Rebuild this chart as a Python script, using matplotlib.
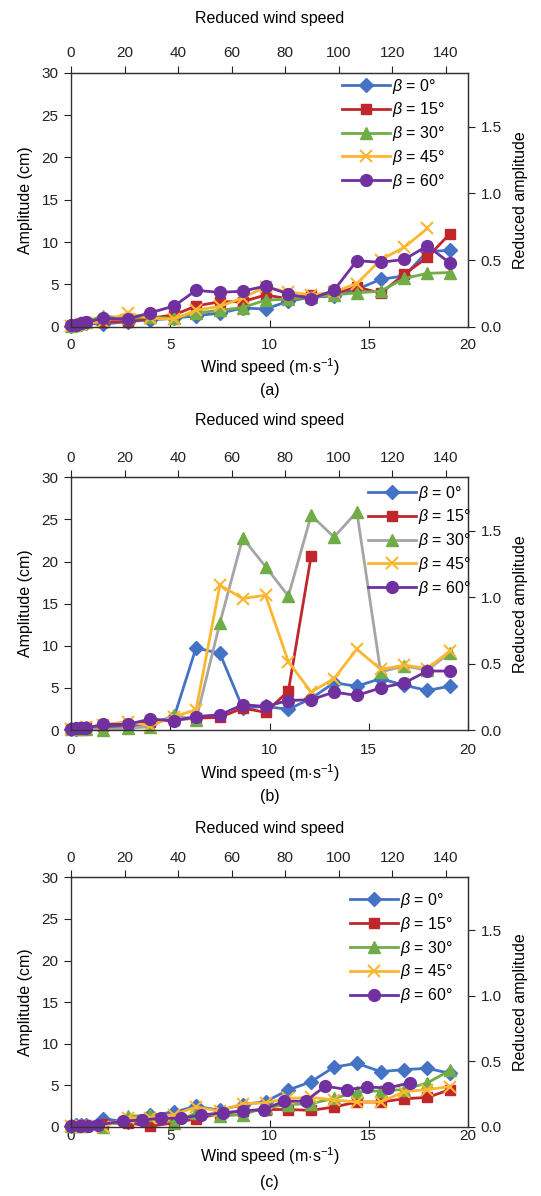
import matplotlib
matplotlib.use("Agg")
import matplotlib.pyplot as plt

plt.rcParams['font.family'] = ['Liberation Sans', 'DejaVu Sans']
plt.rcParams['mathtext.fontset'] = 'custom'
plt.rcParams['mathtext.rm'] = 'Liberation Sans'
plt.rcParams['mathtext.it'] = 'Liberation Sans:italic'

# ---------------- data ----------------
wind = [0, 0.25, 0.5, 0.75, 1.6, 2.85, 4.0, 5.2, 6.3, 7.5, 8.65, 9.8,
        10.95, 12.1, 13.25, 14.4, 15.6, 16.8, 17.95, 19.1]

# panel (a)
blue_a = [0.1, 0.2, 0.3, 0.4, 0.3, 0.6, 0.8, 1.0, 1.3, 1.6, 2.2, 2.1, 3.0, 3.5, 3.6, 4.4, 5.6, 6.0, 8.9, 9.0]
red_a = [0.1, 0.2, 0.3, 0.5, 0.6, 0.6, 1.0, 1.4, 2.45, 2.95, 2.95, 3.75, 3.3, 3.75, 3.9, 4.7, 3.95, 6.2, 8.2, 11.0]
green_a = [0.1, 0.2, 0.4, 0.6, 1.25, 1.0, 1.1, 1.0, 1.6, 1.95, 2.25, 3.15, 3.25, 3.5, 3.75, 4.0, 4.2, 5.7, 6.3, 6.4]
orange_a = [0.1, 0.2, 0.3, 0.4, 0.6, 1.6, 1.0, 0.9, 1.95, 2.4, 3.4, 4.7, 4.1, 3.75, 4.1, 5.1, 7.9, 9.4, 11.6]
purple_a = [0.2, 0.25, 0.4, 0.5, 1.0, 0.9, 1.65, 2.45, 4.3, 4.05, 4.2, 4.8, 3.85, 3.3, 4.3, 7.8, 7.6, 7.95, 9.55, 7.5]

# panel (b)
blue_b = [0.1, 0.1, 0.2, 0.2, 0.4, 0.4, 0.8, 1.6, 9.75, 9.1, 2.6, 2.8, 2.45, 3.75, 5.6, 5.2, 6.1, 5.3, 4.7, 5.2]
red_b = [0.1, 0.1, 0.2, 0.3, 0.5, 0.6, 1.0, 1.2, 1.4, 1.5, 2.6, 2.1, 4.6, 20.7]
green_b = [0.1, 0.1, 0.1, 0.1, 0.0, 0.2, 0.4, 1.8, 1.2, 12.7, 22.8, 19.4, 15.9, 25.5, 22.9, 25.9, 6.9, 7.6, 7.1, 9.2]
orange_b = [0.1, 0.1, 0.2, 0.3, 0.6, 1.0, 0.5, 1.6, 2.4, 17.2, 15.6, 16.0, 8.1, 4.5, 6.1, 9.6, 7.2, 7.7, 7.3, 9.4]
purple_b = [0.1, 0.2, 0.2, 0.2, 0.67, 0.67, 1.3, 1.1, 1.6, 1.8, 3.0, 2.8, 3.5, 3.6, 4.5, 4.1, 5.0, 5.6, 7.0, 7.0]

# panel (c)
blue_c = [0.1, 0.2, 0.2, 0.3, 1.0, 0.6, 1.4, 1.8, 2.5, 2.0, 2.7, 3.05, 4.45, 5.45, 7.2, 7.65, 6.65, 6.9, 7.05, 6.45]
red_c = [0.1, 0.1, 0.1, 0.2, 0.4, 0.5, 0.1, 0.5, 1.0, 1.6, 1.9, 2.1, 2.1, 2.0, 2.4, 3.0, 3.0, 3.4, 3.55, 4.5]
green_c = [0.1, 0.1, 0.1, 0.2, 0.0, 1.3, 1.4, 0.5, 1.7, 1.3, 1.5, 2.3, 2.7, 2.8, 3.45, 4.2, 4.35, 4.5, 5.3, 6.8]
orange_c = [0.1, 0.0, 0.0, 0.1, 0.0, 1.1, 1.1, 1.5, 2.4, 1.9, 2.8, 2.9, 3.45, 3.55, 3.25, 3.0, 3.0, 4.25, 4.5, 4.85]
wind_purple_c = [0, 0.45, 0.86, 1.35, 2.6, 3.56, 4.55, 5.54, 6.56, 7.64, 8.68, 9.7,
                 10.73, 11.82, 12.81, 13.92, 14.92, 15.99, 17.06]
purple_c = [0.1, 0.1, 0.1, 0.25, 0.7, 0.85, 1.05, 1.05, 1.45, 1.7, 1.95, 2.1, 3.1, 3.1, 4.9, 4.5, 4.8, 4.7, 5.3]

labels = [r'$\beta$ = 0°', r'$\beta$ = 15°', r'$\beta$ = 30°', r'$\beta$ = 45°', r'$\beta$ = 60°']
panel_tags = ['(a)', '(b)', '(c)']

BLUE = '#4472C4'
RED = '#C0272D'
GREEN = '#70AD47'
ORANGE = '#FDB632'
PURPLE = '#7030A0'
GREY = '#A5A5A5'

VEL_FACTOR = 7.41     # reduced wind speed per m/s
AMP_FACTOR = 15.75    # cm per unit reduced amplitude

# layout per panel (pixel positions)
panels = [
    dict(series=[(wind, blue_a), (wind, red_a), (wind, green_a), (wind, orange_a), (wind, purple_a)],
         green_line=GREEN, rect=[71, 72.7, 468, 326.7], leg=(0.683, 0.985),
         title_y=18, xlab_y=367, tag_y=391, tick_pad=8.0),
    dict(series=[(wind, blue_b), (wind, red_b), (wind, green_b), (wind, orange_b), (wind, purple_b)],
         green_line=GREY, rect=[71, 477.3, 468, 730], leg=(0.748, 0.975),
         title_y=420, xlab_y=773, tag_y=797, tick_pad=9.5),
    dict(series=[(wind, blue_c), (wind, red_c), (wind, green_c), (wind, orange_c), (wind_purple_c, purple_c)],
         green_line=GREEN, rect=[71, 877.3, 468, 1127], leg=(0.703, 0.945),
         title_y=828, xlab_y=1156, tag_y=1182, tick_pad=1.5),
]

W, H = 541, 1196
fig = plt.figure(figsize=(W / 100, H / 100), dpi=100)

styles = [
    dict(marker='D', ms=7, color=BLUE),
    dict(marker='s', ms=7, color=RED),
    dict(marker='^', ms=8.5, color=GREEN),
    dict(marker='x', ms=9, mew=1.5, color=ORANGE),
    dict(marker='o', ms=8.5, color=PURPLE),
]

FS = 11.5
TFS = 11
for i, p in enumerate(panels):
    x0, y0, x1, y1 = p['rect']
    ax = fig.add_axes([x0 / W, 1 - y1 / H, (x1 - x0) / W, (y1 - y0) / H])
    handles = []
    for k, ((xs, ys), st) in enumerate(zip(p['series'], styles)):
        st = dict(st)
        col = st.pop('color')
        line_col = p['green_line'] if k == 2 else col
        h, = ax.plot(xs[:len(ys)], ys, color=line_col, lw=2, markerfacecolor=col,
                     markeredgecolor=col, clip_on=False, label=labels[k], **st)
        handles.append(h)
    ax.set_xlim(0, 20)
    ax.set_ylim(0, 30)
    ax.set_xticks([0, 5, 10, 15, 20])
    ax.set_yticks([0, 5, 10, 15, 20, 25, 30])
    ax.tick_params(axis='x', direction='in', length=5, pad=p['tick_pad'], labelsize=TFS, colors='#222222')
    ax.tick_params(axis='y', direction='out', length=5, pad=4, labelsize=TFS, colors='#222222')
    for s in ax.spines.values():
        s.set_color('#333333')
        s.set_linewidth(1)
    ax.set_ylabel('Amplitude (cm)', fontsize=FS, labelpad=6)

    top = ax.secondary_xaxis('top', functions=(lambda v: v * VEL_FACTOR, lambda v: v / VEL_FACTOR))
    top.set_xticks([0, 20, 40, 60, 80, 100, 120, 140])
    top.tick_params(direction='out', length=5, pad=4, labelsize=TFS, colors='#222222')
    top.spines['top'].set_color('#333333')

    right = ax.secondary_yaxis('right', functions=(lambda v: v / AMP_FACTOR, lambda v: v * AMP_FACTOR))
    right.set_yticks([0.0, 0.5, 1.0, 1.5])
    right.set_yticklabels(['0.0', '0.5', '1.0', '1.5'])
    right.tick_params(direction='out', length=5, pad=4, labelsize=TFS, colors='#222222')
    right.set_ylabel('Reduced amplitude', fontsize=FS, labelpad=8)
    right.spines['right'].set_color('#333333')

    ax.legend(handles=handles, loc='upper left', bbox_to_anchor=p['leg'], frameon=False,
              fontsize=FS, handlelength=3.0, handletextpad=0.15, labelspacing=0.3,
              borderpad=0, borderaxespad=0, numpoints=1)

    cx = ((x0 + x1) / 2) / W
    fig.text(cx, 1 - p['title_y'] / H, 'Reduced wind speed', ha='center', va='center', fontsize=FS)
    fig.text(cx, 1 - p['xlab_y'] / H, r'Wind speed (m$\cdot$s$^{-1}$)', ha='center', va='center', fontsize=FS)
    fig.text(cx, 1 - p['tag_y'] / H, panel_tags[i], ha='center', va='center', fontsize=FS)

fig.savefig('out.png', dpi=100)
